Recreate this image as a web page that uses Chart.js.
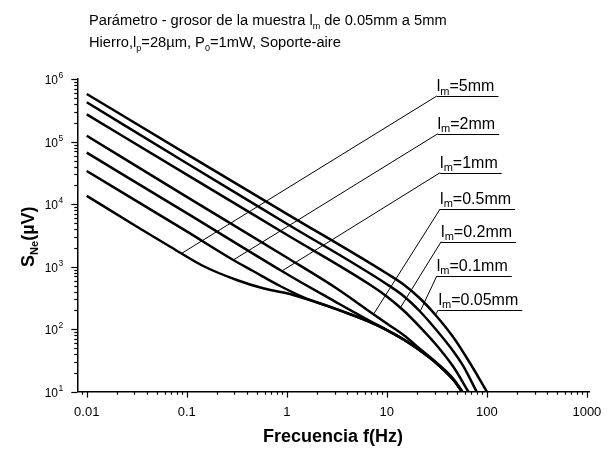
<!DOCTYPE html>
<html>
<head>
<meta charset="utf-8">
<script src="https://cdn.jsdelivr.net/npm/chart.js@4"></script>
<style>
  html, body { margin: 0; padding: 0; background: #fff; }
  #wrap { width: 610px; height: 449px; }
</style>
</head>
<body>
<div id="wrap"><canvas id="chart" width="610" height="449"></canvas></div>
<script>
// curves: frequency (Hz) and signal (µV) for each thickness
const f_005 = [0.01, 0.1, 1, 10, 14.7, 21.5, 31.6, 46.4, 68, 100];
const s_005 = [5.8e5, 6.33e4, 7020, 778, 519, 310, 160, 73.6, 28.5, 10];

const f_01 = [0.01, 0.1, 1, 10, 14.7, 21.5, 31.6, 46.4, 58, 79];
const s_01 = [4.27e5, 4.53e4, 4875, 525, 340, 192, 95.3, 44, 25.8, 10];

const f_02 = [0.01, 0.1, 1, 6.8, 10, 14.7, 21.5, 31.6, 46.4, 65.4];
const s_02 = [2.74e5, 2.97e4, 3250, 515, 334, 199, 108, 54.8, 24.8, 10];

const f_05 = [0.01, 0.1, 1, 3.16, 7.35, 10, 14.7, 21.5, 31.6, 46.4, 57];
const s_05 = [1.247e5, 1.31e4, 1403, 448, 173, 123, 80.8, 48.2, 28.8, 16, 10];

const f_1 = [0.01, 0.1, 0.891, 1.456, 3.16, 6.8, 10, 14.7, 21.5, 31.6, 46.4, 56.6];
const s_1 = [6.67e4, 7200, 853, 538, 267, 135, 97, 68.4, 45.6, 28.2, 15.4, 10];

const f_2 = [0.01, 0.1, 0.292, 0.46, 0.857, 1.456, 3.16, 6.8, 10, 14.7, 21.5, 31.6, 46.4, 56.6];
const s_2 = [3.4e4, 3670, 1280, 853, 491, 327, 207, 130, 97, 68.4, 45.6, 28.2, 15.4, 10];

const f_5 = [0.01, 0.0309, 0.0684, 0.146, 0.316, 0.579, 1, 1.456, 3.16, 6.8, 10, 14.7, 21.5, 31.6, 46.4, 56.6];
const s_5 = [1.36e4, 4477, 2089, 1026, 612, 451, 375, 316, 210, 130, 97, 68.4, 45.6, 28.2, 15.4, 10];

// curve labels and their leader lines (from a point on the curve up to the label)
const labelTexts = ['=5mm', '=2mm', '=1mm', '=0.5mm', '=0.2mm', '=0.1mm', '=0.05mm'];
const leaderFromF = [0.089, 0.292, 0.891, 7.35, 13.6, 21.5, 30.4];
const leaderFromS = [1637, 1280, 853, 173, 218, 192, 169];
const leaderToF = [31.6, 32.1, 34.1, 34.1, 34.9, 31.6, 32.8];
const leaderToS = [5.38e5, 1.33e5, 3.19e4, 8380, 2512, 710, 203];

// axis ticks
const xTickValues = [0.01, 0.1, 1, 10, 100, 1000];
const xTickLabels = ['0.01', '0.1', '1', '10', '100', '1000'];
const yTickValues = [10, 100, 1000, 1e4, 1e5, 1e6];
const yTickExp = ['1', '2', '3', '4', '5', '6'];

const FONT = "'Liberation Sans', Arial, Helvetica, sans-serif";

function toPoints(fs, ss) {
  return fs.map((f, i) => ({ x: f, y: ss[i] }));
}

const curves = [[f_005, s_005], [f_01, s_01], [f_02, s_02], [f_05, s_05], [f_1, s_1], [f_2, s_2], [f_5, s_5]];

const datasets = curves.map(c => ({
  data: toPoints(c[0], c[1]),
  showLine: true,
  borderColor: '#000',
  borderWidth: 2.5,
  pointRadius: 0,
  cubicInterpolationMode: 'monotone'
}));

labelTexts.forEach((t, i) => {
  datasets.push({
    data: [{ x: leaderFromF[i], y: leaderFromS[i] }, { x: leaderToF[i], y: leaderToS[i] }],
    showLine: true,
    borderColor: '#000',
    borderWidth: 1,
    pointRadius: 0,
    tension: 0
  });
});

function partsWidth(ctx, parts) {
  let w = 0;
  parts.forEach(p => {
    ctx.font = (p.bold ? 'bold ' : '') + p.size + 'px ' + FONT;
    w += ctx.measureText(p.t).width;
  });
  return w;
}

function drawParts(ctx, parts, x, y) {
  parts.forEach(p => {
    ctx.font = (p.bold ? 'bold ' : '') + p.size + 'px ' + FONT;
    ctx.fillText(p.t, x, y + (p.dy || 0));
    x += ctx.measureText(p.t).width;
  });
  return x;
}

const textPlugin = {
  id: 'texts',
  afterDraw(chart) {
    const ctx = chart.ctx;
    const xs = chart.scales.x, ys = chart.scales.y;
    const area = chart.chartArea;
    ctx.save();
    ctx.fillStyle = '#000';
    ctx.strokeStyle = '#000';
    ctx.textAlign = 'left';
    ctx.textBaseline = 'alphabetic';

    // title
    drawParts(ctx, [
      { t: 'Parámetro - grosor de la muestra l', size: 14.7 },
      { t: 'm', size: 9, dy: 4.5 },
      { t: ' de 0.05mm a 5mm', size: 14.7 }
    ], 89, 24.5);
    drawParts(ctx, [
      { t: 'Hierro,l', size: 14.7 },
      { t: 'p', size: 9, dy: 4.5 },
      { t: '=28µm, P', size: 14.7 },
      { t: '0', size: 9, dy: 4.5 },
      { t: '=1mW, Soporte-aire', size: 14.7 }
    ], 89, 46.5);

    // ticks
    ctx.lineWidth = 1.2;
    for (let e = -3; e <= 3; e++) {
      for (let k = 1; k <= 9; k++) {
        const v = k * Math.pow(10, e);
        if (v < xs.min || v > xs.max) continue;
        const px = Math.round(xs.getPixelForValue(v)) + 0.5;
        ctx.beginPath();
        ctx.moveTo(px, area.bottom);
        ctx.lineTo(px, area.bottom + (k === 1 ? 6 : 3));
        ctx.stroke();
      }
    }
    for (let e = 1; e <= 6; e++) {
      for (let k = 1; k <= 9; k++) {
        const v = k * Math.pow(10, e);
        if (v < ys.min || v > ys.max * 1.0001) continue;
        const py = Math.round(ys.getPixelForValue(v)) + 0.5;
        ctx.beginPath();
        ctx.moveTo(area.left, py);
        ctx.lineTo(area.left - (k === 1 ? 6 : 3), py);
        ctx.stroke();
      }
    }

    // tick labels
    ctx.font = '13px ' + FONT;
    ctx.textAlign = 'center';
    xTickValues.forEach((v, i) => {
      ctx.fillText(xTickLabels[i], xs.getPixelForValue(v), 415.5);
    });
    yTickValues.forEach((v, i) => {
      const py = ys.getPixelForValue(v);
      ctx.textAlign = 'right';
      ctx.font = '12px ' + FONT;
      ctx.fillText('10', 58, py + 5);
      ctx.textAlign = 'left';
      ctx.font = '8.5px ' + FONT;
      ctx.fillText(yTickExp[i], 58.5, py - 1);
    });

    // axis titles
    ctx.textAlign = 'left';
    const xt = [{ t: 'Frecuencia f(Hz)', size: 18, bold: true }];
    drawParts(ctx, xt, 333 - partsWidth(ctx, xt) / 2, 441.5);

    const yt = [
      { t: 'S', size: 18, bold: true },
      { t: 'Ne', size: 11, bold: true, dy: 4 },
      { t: '(µV)', size: 18, bold: true }
    ];
    ctx.save();
    ctx.translate(33.5, 236.7);
    ctx.rotate(-Math.PI / 2);
    drawParts(ctx, yt, -partsWidth(ctx, yt) / 2, 0);
    ctx.restore();

    // curve labels with underline
    ctx.lineWidth = 1;
    labelTexts.forEach((t, i) => {
      const px = xs.getPixelForValue(leaderToF[i]);
      const py = ys.getPixelForValue(leaderToS[i]);
      const parts = [
        { t: 'l', size: 16 },
        { t: 'm', size: 11, dy: 3.5 },
        { t: t, size: 16 }
      ];
      const w = partsWidth(ctx, parts);
      drawParts(ctx, parts, px, py - 5);
      ctx.beginPath();
      ctx.moveTo(px, Math.round(py) + 0.5);
      ctx.lineTo(px + w + 4, Math.round(py) + 0.5);
      ctx.stroke();
    });

    ctx.restore();
  }
};

new Chart(document.getElementById('chart'), {
  type: 'scatter',
  data: { datasets: datasets },
  options: {
    responsive: false,
    devicePixelRatio: 1,
    animation: false,
    layout: { padding: { top: 79.2, right: 21, left: 0, bottom: 0 } },
    plugins: { legend: { display: false }, tooltip: { enabled: false } },
    scales: {
      x: {
        type: 'logarithmic',
        min: 0.00805,
        max: 1050,
        grid: { display: false },
        border: { display: true, color: '#000', width: 1.5 },
        ticks: { display: false },
        afterFit(scale) { scale.height = 57.3; }
      },
      y: {
        type: 'logarithmic',
        min: 10,
        max: 1e6,
        grid: { display: false },
        border: { display: true, color: '#000', width: 1.5 },
        ticks: { display: false },
        afterFit(scale) { scale.width = 77.3; }
      }
    }
  },
  plugins: [textPlugin]
});
</script>
</body>
</html>
